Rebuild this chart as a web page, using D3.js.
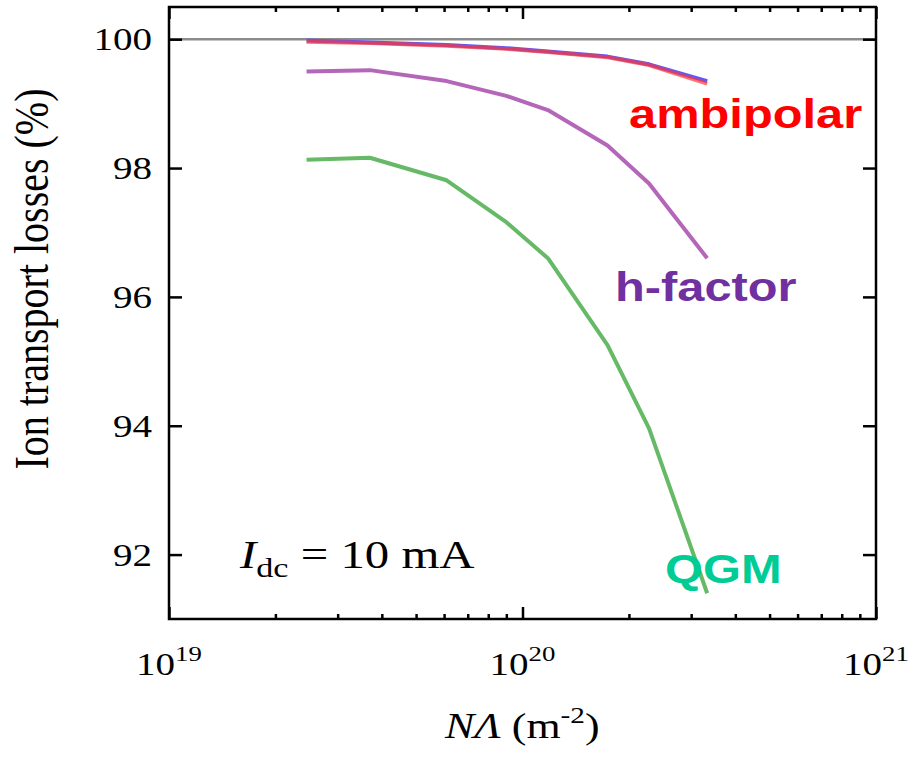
<!DOCTYPE html>
<html>
<head>
<meta charset="utf-8">
<script src="https://cdn.jsdelivr.net/npm/d3@7"></script>
<style>
  body { margin: 0; background: #fff; }
  svg { display: block; }
</style>
</head>
<body>
<div class="chart"></div>
<script>
// data
var nLambda = [2.45e19, 3.7e19, 6.1e19, 9.0e19, 1.18e20, 1.74e20, 2.28e20, 3.33e20];
var blueLoss = [99.98, 99.95, 99.91, 99.86, 99.81, 99.73, 99.61, 99.35];
var ambipolarLoss = [99.96, 99.94, 99.90, 99.85, 99.80, 99.72, 99.60, 99.31];
var hFactorLoss = [99.50, 99.52, 99.35, 99.12, 98.90, 98.35, 97.76, 96.60];
var qgmLoss = [98.13, 98.16, 97.81, 97.16, 96.60, 95.25, 93.96, 91.40];

var yTicks = [92, 94, 96, 98, 100];
var xMajor = [1e19, 1e20, 1e21];
var xMajorExp = ["19", "20", "21"];

var svgWidth = 912, svgHeight = 757;
var box = { left: 169, right: 876, top: 7, bottom: 619 };
var stretch = 1.22; // the figure is stretched horizontally

var svg = d3.select(".chart")
    .append("svg")
    .attr("width", svgWidth)
    .attr("height", svgHeight);

var xScale = d3.scaleLog()
    .domain([1e19, 1e21])
    .range([box.left, box.right]);

var yScale = d3.scaleLinear()
    .domain([91, 100.5])
    .range([box.bottom, box.top]);

// minor ticks 2..9 in each decade
var xMinor = [];
[1e19, 1e20].forEach(function (d) {
    for (var k = 2; k <= 9; k++) xMinor.push(d * k);
});

// reference line at 100 %
svg.append("line")
    .attr("x1", box.left).attr("x2", box.right)
    .attr("y1", yScale(100)).attr("y2", yScale(100))
    .attr("stroke", "#8c8c8c")
    .attr("stroke-width", 2.5);

// series lines
var line = d3.line()
    .x(function (d, i) { return xScale(nLambda[i]); })
    .y(function (d) { return yScale(d); });

function drawSeries(values, color, opacity) {
    svg.append("path")
        .datum(values)
        .attr("d", line)
        .attr("fill", "none")
        .attr("stroke", color)
        .attr("stroke-width", 4)
        .attr("stroke-opacity", opacity)
        .attr("stroke-linejoin", "round");
}
drawSeries(qgmLoss, "#66b966", 1);
drawSeries(hFactorLoss, "#b466b9", 1);
drawSeries(blueLoss, "#5a5aff", 1);
drawSeries(ambipolarLoss, "#ff3535", 0.7);

// axes, ticks pointing inward
function styleAxis(g) {
    g.select(".domain").remove();
    g.selectAll(".tick line").attr("stroke", "#000").attr("stroke-width", 2.5);
    g.selectAll(".tick text").remove();
}

svg.append("g")
    .attr("transform", `translate(0, ${box.bottom})`)
    .call(d3.axisBottom(xScale).tickValues(xMajor).tickSize(-12))
    .call(styleAxis);
svg.append("g")
    .attr("transform", `translate(0, ${box.bottom})`)
    .call(d3.axisBottom(xScale).tickValues(xMinor).tickSize(-5))
    .call(styleAxis);
svg.append("g")
    .attr("transform", `translate(0, ${box.top})`)
    .call(d3.axisTop(xScale).tickValues(xMajor).tickSize(-12))
    .call(styleAxis);
svg.append("g")
    .attr("transform", `translate(0, ${box.top})`)
    .call(d3.axisTop(xScale).tickValues(xMinor).tickSize(-5))
    .call(styleAxis);
svg.append("g")
    .attr("transform", `translate(${box.left}, 0)`)
    .call(d3.axisLeft(yScale).tickValues(yTicks).tickSize(-13))
    .call(styleAxis);
svg.append("g")
    .attr("transform", `translate(${box.right}, 0)`)
    .call(d3.axisRight(yScale).tickValues(yTicks).tickSize(-13))
    .call(styleAxis);

// frame
svg.append("rect")
    .attr("x", box.left).attr("y", box.top)
    .attr("width", box.right - box.left)
    .attr("height", box.bottom - box.top)
    .attr("fill", "none")
    .attr("stroke", "#000")
    .attr("stroke-width", 2.5);

var serif = "'Liberation Serif', 'Times New Roman', serif";
var sans = "'Liberation Sans', Arial, sans-serif";

// y tick labels
svg.selectAll(".ylab")
    .data(yTicks)
    .enter()
    .append("text")
    .attr("transform", d => `translate(152, ${yScale(d) + 11}) scale(${stretch}, 1)`)
    .attr("text-anchor", "end")
    .attr("font-family", serif)
    .attr("font-size", "32px")
    .attr("fill", "#000")
    .text(d => d);

// x tick labels 10^n
var xl = svg.selectAll(".xlab")
    .data(xMajor)
    .enter()
    .append("text")
    .attr("transform", d => `translate(${xScale(d)}, 675) scale(${stretch}, 1)`)
    .attr("text-anchor", "middle")
    .attr("font-family", serif)
    .attr("font-size", "32px")
    .attr("fill", "#000");
xl.append("tspan").text("10");
xl.append("tspan")
    .attr("dy", -14)
    .attr("font-size", "22px")
    .text((d, i) => xMajorExp[i]);

// y axis title
svg.append("text")
    .attr("transform", `translate(48, 279) scale(${stretch}, 1) rotate(-90)`)
    .attr("text-anchor", "middle")
    .attr("font-family", serif)
    .attr("font-size", "40px")
    .attr("fill", "#000")
    .text("Ion transport losses (%)");

// x axis title
var xt = svg.append("text")
    .attr("transform", `translate(445, 738) scale(${stretch}, 1)`)
    .attr("font-family", serif)
    .attr("font-size", "36px")
    .attr("fill", "#000");
xt.append("tspan").attr("font-style", "italic").text("NΛ");
xt.append("tspan").text(" (m");
xt.append("tspan").attr("dy", -15).attr("font-size", "24px").text("-2");
xt.append("tspan").attr("dy", 15).text(")");

// annotation
var ann = svg.append("text")
    .attr("transform", `translate(240, 568) scale(${stretch}, 1)`)
    .attr("font-family", serif)
    .attr("font-size", "40px")
    .attr("fill", "#000");
ann.append("tspan").attr("font-style", "italic").text("I");
ann.append("tspan").attr("dy", 9).attr("font-size", "28px").text("dc");
ann.append("tspan").attr("dy", -9).text(" = 10 mA");

// series labels
var labels = [
    { text: "ambipolar", x: 629, y: 128, color: "#ff0000" },
    { text: "h-factor", x: 615, y: 301, color: "#7030a0" },
    { text: "QGM", x: 665, y: 583, color: "#00cc96" }
];
svg.selectAll(".slab")
    .data(labels)
    .enter()
    .append("text")
    .attr("transform", d => `translate(${d.x}, ${d.y}) scale(${stretch}, 1)`)
    .attr("font-family", sans)
    .attr("font-weight", "bold")
    .attr("font-size", "40px")
    .attr("fill", d => d.color)
    .text(d => d.text);
</script>
</body>
</html>
